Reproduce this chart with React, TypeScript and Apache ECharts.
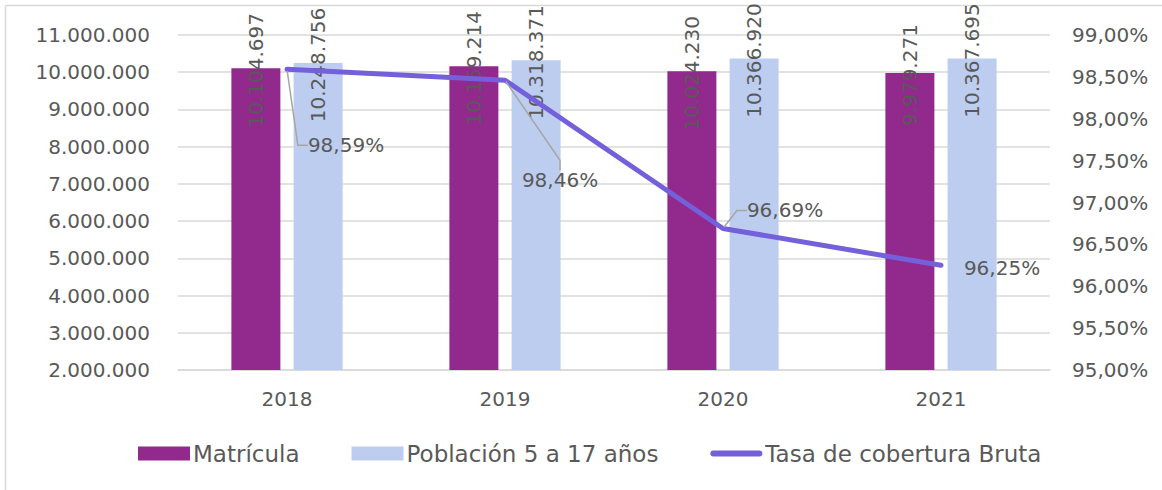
import React, { useEffect, useRef } from "react";
import * as echarts from "echarts";

const categories = ["2018", "2019", "2020", "2021"];
const matricula = [10104697, 10159214, 10024230, 9979271];
const poblacion = [10248756, 10318371, 10366920, 10367695];
const tasa = [98.59, 98.46, 96.69, 96.25];
// label displacement of the rate labels and whether a leader line is drawn (styling only)
const tasaLabelShift = [
  [59, 76],
  [55, 100],
  [62, -18],
  [61, 3],
];
const tasaLeader = [true, true, true, false];

const FONT = "DejaVu Sans";
const TXT = "#595959";
const LINE = "#7460DA";

const fmtInt = (v: number) =>
  String(Math.round(v)).replace(/\B(?=(\d{3})+(?!\d))/g, ".");
const fmtPct = (v: number) => v.toFixed(2).replace(".", ",") + "%";

export default function App() {
  const ref = useRef<HTMLDivElement>(null);
  useEffect(() => {
    document.body.style.margin = "0";
    const chart = echarts.init(ref.current!, undefined, { renderer: "svg" });
    const barLabel = {
      show: true,
      position: "top",
      rotate: 90,
      align: "center",
      verticalAlign: "middle",
      distance: -2,
      fontFamily: FONT,
      fontSize: 20,
      color: TXT,
      formatter: (p: any) => fmtInt(p.value),
    };
    chart.setOption({
      animation: false,
      textStyle: { fontFamily: FONT },
      graphic: [
        { type: "line", shape: { x1: 5.5, y1: 5.5, x2: 1162, y2: 5.5 }, style: { stroke: "#D9D9D9", lineWidth: 1.5 } },
        { type: "line", shape: { x1: 5.5, y1: 5.5, x2: 5.5, y2: 490 }, style: { stroke: "#D9D9D9", lineWidth: 1.5 } },
      ],
      grid: { left: 178, right: 112, top: 35, bottom: 120 },
      legend: {
        bottom: 20,
        left: 133,
        itemWidth: 52,
        itemHeight: 14,
        itemGap: 52,
        textStyle: { fontFamily: FONT, fontSize: 23, color: TXT, padding: [0, 0, 0, -2] },
        data: [
          { name: "Matrícula", icon: "rect" },
          { name: "Población 5 a 17 años", icon: "rect" },
          {
            name: "Tasa de cobertura Bruta",
            icon: "path://M3,0 H49 A3,3 0 0 1 49,6 H3 A3,3 0 0 1 3,0 Z",
          },
        ],
      },
      xAxis: {
        type: "category",
        data: categories,
        axisLine: { lineStyle: { color: "#D9D9D9", width: 1.5 } },
        axisTick: { show: false },
        axisLabel: { fontFamily: FONT, fontSize: 20, color: TXT, margin: 19 },
      },
      yAxis: [
        {
          type: "value",
          min: 2000000,
          max: 11000000,
          interval: 1000000,
          axisLine: { show: false },
          axisTick: { show: false },
          splitLine: { lineStyle: { color: "#D9D9D9", width: 1.5 } },
          axisLabel: { fontFamily: FONT, fontSize: 20, color: TXT, margin: 28, formatter: fmtInt },
        },
        {
          type: "value",
          min: 95,
          max: 99,
          interval: 0.5,
          axisLine: { show: false },
          axisTick: { show: false },
          splitLine: { show: false },
          axisLabel: { fontFamily: FONT, fontSize: 20, color: TXT, margin: 22, formatter: fmtPct },
        },
      ],
      series: [
        {
          name: "Matrícula",
          type: "bar",
          data: matricula,
          barWidth: 49,
          barGap: "27%",
          itemStyle: { color: "#912A8C" },
          label: barLabel,
        },
        {
          name: "Población 5 a 17 años",
          type: "bar",
          data: poblacion,
          barWidth: 49,
          itemStyle: { color: "#BDCDF0" },
          label: barLabel,
        },
        {
          name: "Tasa de cobertura Bruta",
          type: "line",
          yAxisIndex: 1,
          data: tasa.map((v, i) => ({ value: v, labelLine: { show: tasaLeader[i] } })),
          symbol: "circle",
          symbolSize: 3,
          showSymbol: true,
          lineStyle: { color: LINE, width: 5, cap: "round", join: "round" },
          itemStyle: { color: LINE },
          z: 5,
          label: {
            show: true,
            position: "inside",
            fontFamily: FONT,
            fontSize: 20,
            color: TXT,
            formatter: (p: any) => fmtPct(p.value),
          },
          labelLine: { show: true, length2: 10, lineStyle: { color: "#A6A6A6", width: 1.5 } },
          labelLayout: (params: any) => {
            const s = tasaLabelShift[params.dataIndex];
            return { dx: s[0], dy: s[1] };
          },
        },
      ],
    });
    return () => chart.dispose();
  }, []);
  return <div ref={ref} style={{ width: 1162, height: 490 }} />;
}
